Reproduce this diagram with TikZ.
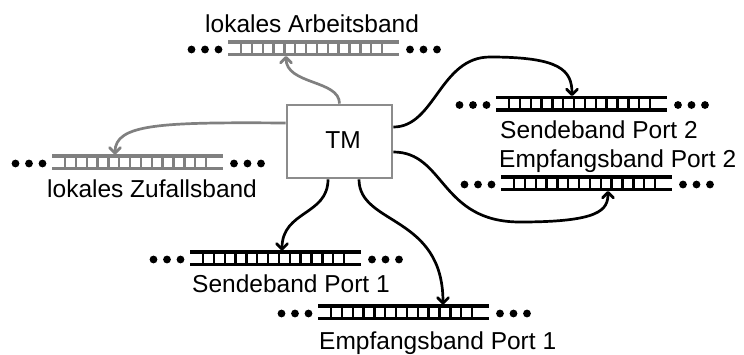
\documentclass[tikz,border=0pt]{standalone}
\usepackage{fontspec}
\setmainfont{Liberation Sans}
\usetikzlibrary{arrows.meta,calc}

\definecolor{tapegray}{RGB}{128,128,128}
\definecolor{boxgray}{RGB}{140,140,140}

\tikzset{
  tapeline/.style={line width=3.2pt},
  tapebar/.style={line width=2.4pt},
  % one tape: two rails, 14 cell walls, and three dots on each side
  pics/tape/.style={code={
    \coordinate (-o) at (0,0);
    \draw[tapeline] (0,0) -- (171,0) (0,12.5) -- (171,12.5);
    \foreach \k in {0,...,13}
      \draw[tapebar] ({13+10.85*\k},0) -- ({13+10.85*\k},12.5);
    \foreach \d in {-36.5,-23,-9.5,182,195.5,209}
      \fill[black] (\d,7.5) circle[radius=3.9];
  }},
  tmbox/.style={draw=boxgray, line width=2.8pt, fill=white,
    minimum width=105pt, minimum height=73pt, inner sep=0pt},
  lbl/.style={inner sep=0pt, anchor=base west},
  conn/.style={line width=2.7pt,
    -{Straight Barb[length=5.5pt,width=11pt,line cap=round,line join=round]}},
  gconn/.style={conn, tapegray},
  every node/.style={font=\fontsize{24.5}{29}\selectfont},
}

\begin{document}
\begin{tikzpicture}[x=1pt,y=-1pt]
  \useasboundingbox (0,0) rectangle (744,354);

  % Turing machine
  \node[tmbox] (tm) at (339.5,141.5) {\hspace*{7pt}\raisebox{3pt}{TM}};

  % tapes
  \pic[tapegray] (arb) at (228,42) {tape};
  \pic[tapegray] (zuf) at (52,156) {tape};
  \pic (sp2) at (496,97.5) {tape};
  \pic (ep2) at (501,177) {tape};
  \pic (sp1) at (190,252) {tape};
  \pic (ep1) at (318,306) {tape};

  % tape captions
  \node[lbl] (arb-lbl) at (205,32)  {lokales Arbeitsband};
  \node[lbl] (zuf-lbl) at (47,197)  {lokales Zufallsband};
  \node[lbl] (sp2-lbl) at (500,138) {Sendeband Port 2};
  \node[lbl] (ep2-lbl) at (499,167) {Empfangsband Port 2};
  \node[lbl] (sp1-lbl) at (192,292) {Sendeband Port 1};
  \node[lbl] (ep1-lbl) at (319,349) {Empfangsband Port 1};

  % head positions on the tapes
  \coordinate (arb-in) at ($(arb-o)+(58,14)$);
  \coordinate (zuf-in) at ($(zuf-o)+(63,-1.5)$);
  \coordinate (sp2-in) at ($(sp2-o)+(76,-1.5)$);
  \coordinate (ep2-in) at ($(ep2-o)+(107,14)$);
  \coordinate (sp1-in) at ($(sp1-o)+(92,-1.5)$);
  \coordinate (ep1-in) at ($(ep1-o)+(125,-1.5)$);

  % start points on the machine box
  \coordinate (tm-a)  at (tm.north);
  \coordinate (tm-z)  at ($(tm.west)+(0,-18.5)$);
  \coordinate (tm-s2) at ($(tm.east)+(0,-14.5)$);
  \coordinate (tm-e2) at ($(tm.east)+(0,10.5)$);
  \coordinate (tm-s1) at ($(tm.south)+(-11.5,0)$);
  \coordinate (tm-e1) at ($(tm.south)+(19.5,0)$);

  % connectors
  \draw[gconn] (tm-a) .. controls +(0,-24) and +(0,29) .. (arb-in);
  \draw[gconn] (tm-z) .. controls (160,122) and (115,124) .. (zuf-in);
  \draw[conn] (tm-s2) .. controls (435,127) and (440,57) .. (490,57)
                     .. controls (560,57) and (572,70) .. (sp2-in);
  \draw[conn] (tm-e2) .. controls (445,152) and (440,222) .. (520,222)
                     .. controls (600,222) and (608,210) .. (ep2-in);
  \draw[conn] (tm-s1) .. controls +(0,36) and +(0,-40) .. (sp1-in);
  \draw[conn] (tm-e1) .. controls +(0,46) and +(0,-90) .. (ep1-in);
\end{tikzpicture}
\end{document}
